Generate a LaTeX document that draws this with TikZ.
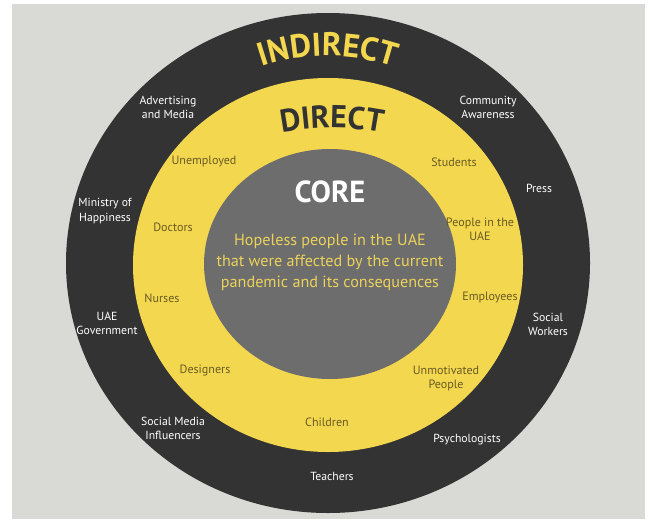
\documentclass[tikz,border=0pt]{standalone}
\usepackage{fontspec}
\setmainfont{PT Sans}
\usetikzlibrary{decorations.text}

\definecolor{bggray}{HTML}{D9DAD5}
\definecolor{ringdark}{HTML}{333333}
\definecolor{ringyellow}{HTML}{F3D74F}
\definecolor{coregray}{HTML}{6D6D6D}
\definecolor{olivetext}{HTML}{6A5B24}
\definecolor{coretext}{HTML}{EBD25A}

\begin{document}
\begin{tikzpicture}[x=0.03cm,y=0.03cm,
    outerlbl/.style={text=white,font=\fontsize{10}{12}\selectfont,align=center,inner sep=0pt},
    innerlbl/.style={text=olivetext,font=\fontsize{10.3}{12}\selectfont,align=center,inner sep=0pt}]
  \useasboundingbox (0,0) rectangle (651,519);
  \fill[bggray] (12,0) rectangle (645,515);

  % rings
  \fill[ringdark] (328,256) ellipse [x radius=262,y radius=250];
  \fill[ringyellow] (328,254) ellipse [x radius=195,y radius=187];
  \fill[coregray] (330,255) ellipse [x radius=126,y radius=115];

  % ring titles
  \path[decorate,decoration={text along path,text align=center,
      text={|\fontsize{28}{28}\selectfont\bfseries\color{ringyellow}|INDIRECT}}]
    (328,256) ++(117:207) arc[start angle=117,end angle=63,radius=207];
  \path[decorate,decoration={text along path,text align=center,
      text={|\fontsize{27}{27}\selectfont\bfseries\color{ringdark}|DIRECT}}]
    (332,141) ++(105:250) arc[start angle=105,end angle=75,radius=250];

  % core
  \node[text=white,font=\fontsize{26}{26}\selectfont\bfseries] (core) at (330,327) {CORE};
  \node[text=coretext,font=\fontsize{13.8}{18}\selectfont,align=center] (coredesc) at (330,257)
    {Hopeless people in the UAE\\that were affected by the current\\pandemic and its consequences};

  % direct
  \node[innerlbl] (unemployed) at (204,357) {Unemployed};
  \node[innerlbl] (students) at (454,357) {Students};
  \node[innerlbl] (doctors) at (173,292) {Doctors};
  \node[innerlbl] (people) at (480,290) {People in the\\UAE};
  \node[innerlbl] (nurses) at (162,221) {Nurses};
  \node[innerlbl] (employees) at (490,221) {Employees};
  \node[innerlbl] (designers) at (205,148) {Designers};
  \node[innerlbl] (unmotivated) at (446,141) {Unmotivated\\People};
  \node[innerlbl] (children) at (327,97) {Children};

  % indirect
  \node[outerlbl] (advertising) at (168,412) {Advertising\\and Media};
  \node[outerlbl] (community) at (488,412) {Community\\Awareness};
  \node[outerlbl] (ministry) at (105,308) {Ministry of\\Happiness};
  \node[outerlbl] (press) at (539,331) {Press};
  \node[outerlbl] (government) at (107,196) {UAE\\Government};
  \node[outerlbl] (socialworkers) at (548,195) {Social\\Workers};
  \node[outerlbl] (influencers) at (173,91) {Social Media\\Influencers};
  \node[outerlbl] (psychologists) at (467,79) {Psychologists};
  \node[outerlbl] (teachers) at (332,43) {Teachers};
\end{tikzpicture}
\end{document}
